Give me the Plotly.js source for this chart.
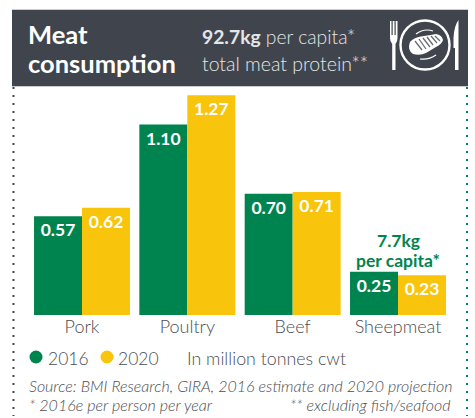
<!DOCTYPE html>
<html><head><meta charset="utf-8">
<script src="https://cdn.plot.ly/plotly-3.0.1.min.js"></script>
<style>html,body{margin:0;padding:0;background:#fff}#c{width:475px;height:418px}</style>
</head><body><div id="c"></div>
<script>
var categories = ['Pork','Poultry','Beef','Sheepmeat'];
var values2016 = [0.57,1.10,0.70,0.25];
var values2020 = [0.62,1.27,0.71,0.23];
var labels2016 = ['0.57','1.10','0.70','0.25'];
var labels2020 = ['0.62','1.27','0.71','0.23'];
var GREEN='#00844f', YELLOW='#f8c40c', DARK='#40454d', TXT='#4a4d52';
var W=475,H=418, FONT='Lato, sans-serif';
function px(x){return x/W} function py(y){return 1-y/H}
function path(d){
  var isX=true;
  return d.replace(/-?\d+(\.\d+)?/g,function(m){var v=isX?px(+m):py(+m);isX=!isX;return v.toFixed(5)});
}
function P(d,fill,lc,lw){return {type:'path',xref:'paper',yref:'paper',path:path(d),fillcolor:fill||'rgba(0,0,0,0)',line:{color:lc||'rgba(0,0,0,0)',width:lw||0}}}
function R(x0,y0,x1,y1,fill){return {type:'rect',xref:'paper',yref:'paper',x0:px(x0),x1:px(x1),y0:py(y0),y1:py(y1),fillcolor:fill,line:{width:0}}}
function C(cx,cy,r,fill,lc,lw){return {type:'circle',xref:'paper',yref:'paper',x0:px(cx-r),x1:px(cx+r),y0:py(cy+r),y1:py(cy-r),fillcolor:fill||'rgba(0,0,0,0)',line:{color:lc||'rgba(0,0,0,0)',width:lw||0}}}
function V(x,y0,y1,c){return {type:'line',xref:'paper',yref:'paper',x0:px(x),x1:px(x),y0:py(y0),y1:py(y1),line:{color:c,width:2,dash:'2px,6px'}}}
function T(x,y,text,size,color,anchor,weight){
  return {xref:'paper',yref:'paper',x:px(x),y:py(y),text:text,showarrow:false,xanchor:anchor||'left',yanchor:'middle',borderpad:0,
    font:{family:FONT,size:size,color:color,weight:weight||400},align:anchor==='center'?'center':'left'};
}
var shapes=[
  R(12,9,468,87,'#c9ccd0'),
  R(12,10,468,86,DARK),
  V(13.5,87,416,'#3f434a'),V(467,87,416,GREEN),
  P('M390 21 L391.5 21 L391.5 35 L392.7 35 L392.7 21 L394.5 21 L394.5 35 L395.7 35 L395.7 21 L397.5 21 L397.5 38 Q397.5 42 395.5 44 L395.5 70 L392.2 70 L392.2 44 Q390 42 390 38 Z','#fff'),
  P('M458.5 20 L458.5 70 L455 70 L455 48 L453.5 48 L453.5 38 Q454 26 458.5 20 Z','#fff'),
  C(425,45,24.5,null,'#fff',2.4),
  P('M410 42 Q414 37 424 36 Q431 35 436 34 Q442 35 443 40 Q442 44 436 47 Q431 50 426 53 Q420 56 413 54 Q407 50 410 42 Z','#fff'),
  P('M415 41 L422 50 M419 39 L426 49 M423 38 L430 47 M427 37 L433 45 M431 36 L437 43 M435 36 L440 41',null,'#6a6e74',1.3),
  P('M416 34 Q424 28 433 31',null,'#fff',1.2),
  P('M420 59 Q429 60 436 55',null,'#fff',1.2),
  C(36,357,6.5,GREEN),C(107,357,6.5,YELLOW)
];
var annotations=[
  T(27,34,'<b>Meat</b>',25.5,'#fff'),
  T(27,63.5,'<b>consumption</b>',25.5,'#fff'),
  T(201,37,'<b>92.7kg</b> per capita*',19.3,'#e4e5e7',null,300),
  T(201,63,'total meat protein**',19.5,'#e4e5e7',null,300),
  T(398,241,'<b>7.7kg</b>',17.5,GREEN,'center'),
  T(398,260,'<b>per capita*</b>',17.5,GREEN,'center'),
  T(47,358,'2016',17.5,TXT,null,300),
  T(117,358,'2020',17.5,TXT,null,300),
  T(186,358,'In million tonnes cwt',17.8,TXT,null,300),
  T(28,385,'<i>Source: BMI Research, GIRA, 2016 estimate and 2020 projection</i>',16,TXT,null,300),
  T(28,404,'<i>* 2016e per person per year</i>',16,TXT,null,300),
  T(452,404,'<i>** excluding fish/seafood</i>',16,TXT,'right',300)
];
function bar(name,vals,labels,color){
  return {type:'bar',name:name,x:categories,y:vals,text:labels,texttemplate:'%{text}',textposition:'inside',insidetextanchor:'end',
    textangle:0,cliponaxis:false,constraintext:'none',
    insidetextfont:{family:FONT,size:17.5,color:'#fff',weight:700},marker:{color:color,line:{width:0}},hoverinfo:'x+y'};
}
Plotly.newPlot('c',[bar('2016',values2016,labels2016,GREEN),bar('2020',values2020,labels2020,YELLOW)],{
  width:W,height:H,margin:{l:0,r:0,t:0,b:0},paper_bgcolor:'#fff',plot_bgcolor:'rgba(0,0,0,0)',
  showlegend:false,barmode:'group',bargap:0.089,bargroupgap:0,
  font:{family:FONT},
  xaxis:{domain:[29.33/W,450.67/W],type:'category',range:[-0.5,3.5],showline:false,ticks:'',showgrid:false,zeroline:false,
    tickfont:{family:FONT,size:18,color:TXT,weight:300},ticklabelstandoff:-1,fixedrange:true},
  yaxis:{domain:[1-315/H,1-90/H],range:[0,1.3],visible:false,fixedrange:true,showgrid:false,zeroline:false},
  shapes:shapes,annotations:annotations
},{displayModeBar:false,staticPlot:true});
</script></body></html>
